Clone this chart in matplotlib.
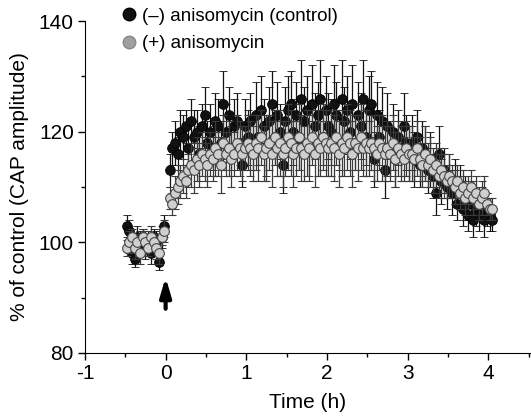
import matplotlib
matplotlib.use("Agg")
import matplotlib.pyplot as plt
from matplotlib.ticker import MultipleLocator
from matplotlib.lines import Line2D

# time axis (h): 2-min sampling, baseline then post-stimulus
t_base = [-0.483 + i / 30 for i in range(15)]
t_post = [0.05 + i / 30 for i in range(121)]

ctrl_base = [103, 102, 98, 97, 101, 100, 101, 99, 100, 98, 101, 100, 96.5, 101, 103]
ctrl_post = [
    113, 117, 118, 116, 120, 119, 121, 117, 122, 119, 120, 116, 121, 123, 118,
    120, 117, 122, 121, 118, 125, 120, 123, 117, 121, 122, 118, 114, 121, 119,
    122, 118, 123, 119, 124, 121, 117, 122, 125, 119, 123, 120, 114, 122, 124,
    125, 120, 123, 118, 126, 122, 124, 117, 125, 121, 123, 126, 119, 124, 121,
    120, 125, 123, 118, 126, 122, 124, 120, 125, 118, 123, 121, 126, 119, 124,
    125, 115, 123, 119, 122, 113, 121, 117, 120, 115, 119, 117, 121, 118, 116,
    118, 115, 119, 114, 117, 116, 113, 115, 112, 109, 116, 111, 113, 110, 112,
    109, 111, 107, 110, 106, 108, 105, 107, 104, 106, 105, 107, 104, 106, 105, 104,
]
ctrl_base_err = [2, 2, 2, 1.5, 2, 2, 1.5, 2, 2, 2, 1.5, 2, 1.5, 2, 2]
ctrl_post_err = [
    3, 3, 4, 3, 4, 4, 3, 4, 4, 5, 4, 5, 4, 5, 4,
    5, 4, 5, 5, 4, 6, 5, 5, 4, 5, 5, 4, 4, 5, 5,
    5, 5, 6, 5, 6, 5, 5, 6, 6, 5, 6, 5, 5, 6, 6,
    6, 6, 6, 5, 7, 6, 6, 5, 7, 6, 6, 7, 5, 6, 6,
    6, 7, 6, 5, 7, 6, 6, 5, 7, 5, 6, 6, 7, 5, 6,
    6, 5, 6, 5, 6, 5, 6, 5, 5, 5, 5, 5, 6, 5, 5,
    5, 5, 5, 4, 5, 5, 4, 5, 4, 4, 5, 4, 4, 4, 4,
    4, 4, 3, 4, 3, 4, 3, 3, 3, 3, 3, 3, 3, 3, 3, 2,
]

aniso_base = [99, 100, 101, 99, 100, 98, 101, 100, 99, 101, 100, 99, 98, 101, 102]
aniso_post = [
    108, 107, 109, 110, 111, 112, 111, 113, 114, 113, 115, 114, 116, 115, 114,
    116, 115, 117, 116, 114, 118, 116, 117, 115, 116, 118, 117, 116, 117, 118,
    117, 116, 118, 117, 119, 116, 117, 118, 116, 119, 117, 118, 116, 117, 119,
    118, 116, 117, 119, 117, 116, 118, 117, 119, 116, 118, 117, 119, 118, 117,
    118, 117, 119, 116, 118, 117, 119, 118, 116, 118, 117, 119, 117, 118, 117,
    118, 117, 116, 118, 117, 116, 117, 116, 118, 115, 117, 116, 115, 117, 116,
    116, 115, 117, 115, 114, 116, 114, 115, 113, 114, 112, 113, 112, 111, 112,
    111, 110, 111, 109, 110, 108, 109, 110, 108, 109, 107, 108, 109, 107, 106, 106,
]
aniso_base_err = [1.5, 2, 1.5, 2, 1.5, 2, 1.5, 2, 1.5, 2, 1.5, 2, 2, 1.5, 2]
aniso_post_err = [
    2, 2, 3, 3, 3, 3, 3, 3, 4, 4, 4, 4, 4, 4, 4,
    4, 4, 5, 4, 5, 5, 4, 5, 5, 4, 5, 5, 5, 4, 5,
    5, 5, 5, 6, 5, 5, 6, 5, 6, 5, 5, 6, 6, 5, 6,
    6, 6, 5, 6, 6, 5, 6, 6, 5, 6, 6, 5, 6, 6, 5,
    6, 6, 5, 6, 6, 5, 6, 6, 6, 5, 6, 6, 5, 6, 5,
    5, 6, 5, 5, 6, 5, 5, 5, 5, 5, 5, 5, 4, 5, 5,
    5, 4, 5, 4, 4, 5, 4, 4, 4, 4, 4, 4, 4, 3, 4,
    3, 3, 3, 3, 3, 3, 3, 3, 3, 3, 3, 3, 3, 2, 2, 2,
]

plt.rcParams["font.family"] = ["Liberation Sans", "DejaVu Sans"]
plt.rcParams["font.size"] = 15
plt.rcParams["axes.unicode_minus"] = False

fig = plt.figure(figsize=(5.31, 4.17), dpi=100)
ax = fig.add_axes([0.160, 0.1535, 0.840, 0.796])

t_all = t_base + t_post

ax.errorbar(t_all, ctrl_base + ctrl_post, yerr=ctrl_base_err + ctrl_post_err, fmt="o",
            ms=7, mfc="#111111", mec="#000000", mew=0.6, ecolor="#111111",
            elinewidth=0.9, capsize=3, capthick=0.9, zorder=2)
ax.errorbar(t_all, aniso_base + aniso_post, yerr=aniso_base_err + aniso_post_err, fmt="o",
            ms=7, mfc="#cfcfcf", mec="#444444", mew=0.8, ecolor="#3a3a3a",
            elinewidth=0.9, capsize=3, capthick=0.9, zorder=3)

ax.annotate("", xy=(0, 94.2), xytext=(0, 87.5),
            arrowprops=dict(arrowstyle="-|>,head_width=0.22,head_length=0.75",
                            color="black", lw=3))

ax.set_xlim(-1, 4.53)
ax.set_ylim(80, 140)
ax.xaxis.set_major_locator(MultipleLocator(1))
ax.xaxis.set_minor_locator(MultipleLocator(0.5))
ax.yaxis.set_major_locator(MultipleLocator(20))
ax.yaxis.set_minor_locator(MultipleLocator(10))
ax.spines["top"].set_visible(False)
ax.spines["right"].set_visible(False)
ax.tick_params(which="major", length=5, width=1, direction="out", pad=3)
ax.tick_params(which="minor", length=3, width=1, direction="out")
ax.set_xticks([-1, 0, 1, 2, 3, 4])
ax.set_xlabel("Time (h)", labelpad=7)
ax.set_ylabel("% of control (CAP amplitude)", labelpad=7)

handles = [
    Line2D([], [], marker="o", ls="none", ms=9, mfc="#111111", mec="#000000"),
    Line2D([], [], marker="o", ls="none", ms=9, mfc="#a0a0a0", mec="#888888"),
]
fig.legend(handles, ["(\u2013) anisomycin (control)", "(+) anisomycin"],
           loc="upper left", bbox_to_anchor=(0.207, 1.0), frameon=False,
           fontsize=13.5, handletextpad=0.1, labelspacing=0.55, borderaxespad=0,
           handlelength=1.2)

fig.savefig("out.png", dpi=100, facecolor="white")
